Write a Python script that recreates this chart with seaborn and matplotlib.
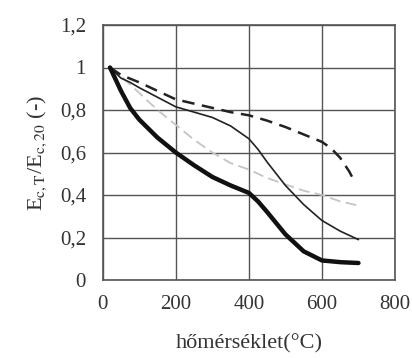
import matplotlib
matplotlib.use("Agg")
import matplotlib.pyplot as plt
import seaborn as sns
import pandas as pd

temp = [20, 50, 75, 100, 150, 200, 250, 300, 350, 400, 425, 450, 500, 550, 600, 650, 700]
thick = [1.0, 0.89, 0.81, 0.755, 0.67, 0.60, 0.54, 0.485, 0.445, 0.41, 0.37, 0.32, 0.215, 0.135, 0.092, 0.084, 0.08]
thin = [1.0, 0.95, 0.93, 0.905, 0.86, 0.815, 0.79, 0.765, 0.725, 0.665, 0.615, 0.555, 0.445, 0.355, 0.28, 0.23, 0.19]
dash_t = [20, 50, 100, 150, 200, 250, 300, 350, 400, 450, 500, 550, 600, 625, 650, 675, 690]
dashed = [1.0, 0.965, 0.93, 0.89, 0.85, 0.83, 0.81, 0.79, 0.775, 0.75, 0.72, 0.685, 0.65, 0.62, 0.575, 0.51, 0.46]
gray_t = [20, 50, 100, 150, 200, 250, 300, 350, 400, 450, 500, 550, 600, 650, 700]
gray = [1.0, 0.96, 0.88, 0.80, 0.73, 0.66, 0.60, 0.55, 0.52, 0.48, 0.45, 0.42, 0.40, 0.37, 0.35]

xticks = [0, 200, 400, 600, 800]
yticks = [0, 0.2, 0.4, 0.6, 0.8, 1.0, 1.2]
ylabels = ["0", "0,2", "0,4", "0,6", "0,8", "1", "1,2"]

sns.set_theme(style="white")
plt.rcParams["font.family"] = ["Liberation Serif", "DejaVu Serif"]
plt.rcParams["mathtext.fontset"] = "stix"

fig = plt.figure(figsize=(4.12, 3.58), dpi=100)
ax = fig.add_axes([102.7/412, 1 - 280/358, (395-102.7)/412, (280-25)/358])

sns.lineplot(x=gray_t, y=gray, ax=ax, color="#c4c4c4", lw=1.3, linestyle=(0, (6, 3)))
sns.lineplot(x=temp, y=thin, ax=ax, color="#222222", lw=1.2)
sns.lineplot(x=dash_t, y=dashed, ax=ax, color="#222222", lw=1.8, linestyle=(0, (5, 3)))
sns.lineplot(x=temp, y=thick, ax=ax, color="#111111", lw=3.2)

ax.set_xlim(0, 800)
ax.set_ylim(0, 1.2)
ax.set_xticks(xticks)
ax.set_xticklabels([str(v) for v in xticks])
ax.set_yticks(yticks)
ax.set_yticklabels(ylabels)
ax.grid(True, color="#555555", lw=1.0)
for s in ax.spines.values():
    s.set_color("#555555")
    s.set_linewidth(1.2)
ax.tick_params(axis="both", labelsize=15, colors="#333333", length=6, width=1.0,
               direction="out", pad=6)
ax.tick_params(axis="x", direction="inout", pad=8)
ax.set_xlabel("hőmérséklet(°C)", fontsize=16, color="#333333", labelpad=14)
ax.set_ylabel(r"E$_{\mathrm{c,T}}$/E$_{\mathrm{c,20}}$ (-)", fontsize=16, color="#333333", labelpad=8)

fig.savefig("out.png", dpi=100)
